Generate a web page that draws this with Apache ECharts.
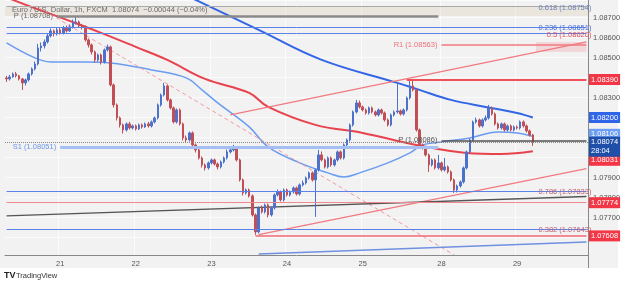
<!DOCTYPE html>
<html><head><meta charset="utf-8">
<script src="https://cdn.jsdelivr.net/npm/echarts@6/dist/echarts.min.js"></script>
<style>html,body{margin:0;padding:0;background:#fff}#c{width:625px;height:285px}</style>
</head><body><div id="c"></div>
<script>
// ---- data ----
const dayLabels = ['20','21','22','23','24','25','28','29'];
const dayHours  = [17,24,24,24,24,25,24,23];
const dateTicks = ['21','22','23','24','25','28','29'];
const titleText = 'Euro / U.S. Dollar, 1h, FXCM  1.08074  \u22120.00044 (\u22120.04%)';
const countdown = '28:04';
// [open, close, low, high]
const candles = [
[1.08398,1.08393,1.08378,1.08408],[1.08393,1.08403,1.08385,1.08413],[1.08403,1.08418,1.08398,1.08425],[1.08418,1.08408,1.08400,1.08428],
[1.08408,1.08393,1.08385,1.08413],[1.08393,1.08373,1.08338,1.08398],[1.08373,1.08388,1.08360,1.08395],[1.08388,1.08418,1.08380,1.08425],
[1.08418,1.08443,1.08410,1.08450],[1.08443,1.08468,1.08435,1.08480],[1.08468,1.08548,1.08460,1.08568],[1.08548,1.08558,1.08530,1.08575],
[1.08558,1.08578,1.08545,1.08590],[1.08578,1.08608,1.08570,1.08620],[1.08608,1.08633,1.08600,1.08645],[1.08633,1.08618,1.08605,1.08640],
[1.08618,1.08638,1.08610,1.08650],[1.08638,1.08623,1.08615,1.08648],[1.08623,1.08648,1.08615,1.08658],[1.08648,1.08633,1.08625,1.08660],
[1.08633,1.08653,1.08628,1.08665],[1.08653,1.08673,1.08645,1.08690],[1.08673,1.08678,1.08665,1.08706],[1.08678,1.08658,1.08650,1.08685],
[1.08658,1.08653,1.08640,1.08668],[1.08653,1.08588,1.08580,1.08660],[1.08588,1.08563,1.08550,1.08595],[1.08563,1.08528,1.08515,1.08570],
[1.08528,1.08488,1.08475,1.08535],[1.08488,1.08513,1.08480,1.08520],[1.08513,1.08478,1.08465,1.08520],[1.08478,1.08538,1.08470,1.08545],
[1.08538,1.08553,1.08530,1.08565],[1.08553,1.08363,1.08355,1.08560],[1.08363,1.08263,1.08250,1.08370],[1.08263,1.08198,1.08185,1.08270],
[1.08198,1.08163,1.08150,1.08205],[1.08163,1.08138,1.08120,1.08170],[1.08138,1.08168,1.08130,1.08175],[1.08168,1.08148,1.08140,1.08178],
[1.08148,1.08158,1.08140,1.08165],[1.08158,1.08143,1.08135,1.08165],[1.08143,1.08163,1.08138,1.08170],[1.08163,1.08153,1.08145,1.08170],
[1.08153,1.08168,1.08148,1.08175],[1.08168,1.08158,1.08150,1.08178],[1.08158,1.08178,1.08150,1.08185],[1.08178,1.08198,1.08170,1.08205],
[1.08198,1.08263,1.08190,1.08270],[1.08263,1.08313,1.08255,1.08320],[1.08313,1.08358,1.08305,1.08373],[1.08358,1.08288,1.08280,1.08365],
[1.08288,1.08248,1.08240,1.08295],[1.08248,1.08178,1.08170,1.08255],[1.08178,1.08238,1.08170,1.08245],[1.08238,1.08168,1.08160,1.08245],
[1.08168,1.08098,1.08085,1.08175],[1.08098,1.08088,1.08075,1.08110],[1.08088,1.08123,1.08080,1.08130],[1.08123,1.08063,1.08055,1.08130],
[1.08063,1.08038,1.08025,1.08070],[1.08038,1.07998,1.07990,1.08045],[1.07998,1.07963,1.07950,1.08005],[1.07963,1.07948,1.07935,1.07970],
[1.07948,1.07973,1.07940,1.07980],[1.07973,1.07988,1.07965,1.07995],[1.07988,1.07968,1.07960,1.07995],[1.07968,1.07953,1.07940,1.07975],
[1.07953,1.07978,1.07945,1.07985],[1.07978,1.07998,1.07970,1.08005],[1.07998,1.08028,1.07990,1.08040],[1.08028,1.08038,1.08020,1.08050],
[1.08038,1.08048,1.08030,1.08063],[1.08048,1.07988,1.07980,1.08055],[1.07988,1.07888,1.07880,1.07995],[1.07888,1.07823,1.07810,1.07895],
[1.07823,1.07838,1.07815,1.07845],[1.07838,1.07808,1.07800,1.07845],[1.07808,1.07713,1.07705,1.07815],[1.07713,1.07628,1.07613,1.07720],
[1.07628,1.07748,1.07620,1.07755],[1.07748,1.07728,1.07720,1.07760],[1.07728,1.07763,1.07720,1.07770],[1.07763,1.07713,1.07700,1.07770],
[1.07713,1.07748,1.07705,1.07755],[1.07748,1.07813,1.07740,1.07820],[1.07813,1.07828,1.07805,1.07840],[1.07828,1.07788,1.07780,1.07835],
[1.07788,1.07838,1.07780,1.07845],[1.07838,1.07813,1.07805,1.07845],[1.07813,1.07828,1.07805,1.07835],[1.07828,1.07848,1.07820,1.07855],
[1.07848,1.07818,1.07810,1.07855],[1.07818,1.07863,1.07810,1.07870],[1.07863,1.07873,1.07855,1.07885],[1.07873,1.07898,1.07865,1.07905],
[1.07898,1.07923,1.07890,1.07930],[1.07923,1.07888,1.07880,1.07930],[1.07888,1.07938,1.07703,1.07945],[1.07938,1.08013,1.07930,1.08038],
[1.08013,1.07988,1.07980,1.08030],[1.07988,1.07953,1.07945,1.07995],[1.07953,1.07998,1.07945,1.08005],[1.07998,1.07963,1.07955,1.08005],
[1.07963,1.07988,1.07955,1.07995],[1.07988,1.08028,1.07980,1.08035],[1.08028,1.07998,1.07990,1.08035],[1.07998,1.08063,1.07990,1.08070],
[1.08063,1.08088,1.08055,1.08095],[1.08088,1.08163,1.08080,1.08170],[1.08163,1.08228,1.08155,1.08235],[1.08228,1.08273,1.08220,1.08288],
[1.08273,1.08253,1.08245,1.08285],[1.08253,1.08238,1.08230,1.08260],[1.08238,1.08223,1.08215,1.08245],[1.08223,1.08248,1.08215,1.08255],
[1.08248,1.08228,1.08220,1.08255],[1.08228,1.08213,1.08205,1.08235],[1.08213,1.08238,1.08205,1.08245],[1.08238,1.08223,1.08215,1.08245],
[1.08223,1.08188,1.08180,1.08230],[1.08188,1.08163,1.08155,1.08195],[1.08163,1.08213,1.08155,1.08220],[1.08213,1.08228,1.08205,1.08235],
[1.08228,1.08233,1.08220,1.08373],[1.08233,1.08218,1.08210,1.08240],[1.08218,1.08238,1.08210,1.08245],[1.08238,1.08298,1.08230,1.08305],
[1.08298,1.08358,1.08290,1.08388],[1.08358,1.08338,1.08330,1.08388],[1.08338,1.08138,1.08130,1.08345],[1.08138,1.08063,1.08055,1.08145],
[1.08063,1.08048,1.08040,1.08070],[1.08048,1.08013,1.08005,1.08055],[1.08013,1.07963,1.07928,1.08020],[1.07963,1.07988,1.07955,1.07995],
[1.07988,1.07948,1.07940,1.07995],[1.07948,1.07973,1.07940,1.08013],[1.07973,1.07938,1.07930,1.07980],[1.07938,1.07953,1.07930,1.07998],
[1.07953,1.07928,1.07920,1.07960],[1.07928,1.07888,1.07880,1.07935],[1.07888,1.07838,1.07823,1.07895],[1.07838,1.07858,1.07825,1.07865],
[1.07858,1.07878,1.07850,1.07885],[1.07878,1.07948,1.07870,1.07955],[1.07948,1.08028,1.07940,1.08035],[1.08028,1.08088,1.08020,1.08095],
[1.08088,1.08178,1.08080,1.08185],[1.08178,1.08188,1.08170,1.08200],[1.08188,1.08158,1.08150,1.08195],[1.08158,1.08188,1.08150,1.08195],
[1.08188,1.08198,1.08180,1.08210],[1.08198,1.08248,1.08190,1.08263],[1.08248,1.08218,1.08210,1.08255],[1.08218,1.08168,1.08160,1.08225],
[1.08168,1.08148,1.08140,1.08175],[1.08148,1.08168,1.08140,1.08175],[1.08168,1.08138,1.08130,1.08175],[1.08138,1.08158,1.08130,1.08165],
[1.08158,1.08138,1.08130,1.08165],[1.08138,1.08153,1.08130,1.08160],[1.08153,1.08148,1.08140,1.08160],[1.08148,1.08178,1.08140,1.08185],
[1.08178,1.08158,1.08150,1.08185],[1.08158,1.08133,1.08125,1.08165],[1.08133,1.08113,1.08105,1.08140],[1.08113,1.08074,1.08058,1.08118]
];
// moving averages: [candle index, value]
const maSlow = [[55,1.08823],[60,1.08788],[80,1.08638],[100,1.08488],[124,1.08373],[131,1.08338],[141,1.08288],[152,1.08253],[162,1.08223],[167,1.08200]];
const maMid  = [[0,1.08808],[2,1.08788],[20,1.08683],[30,1.08623],[41,1.08553],[51,1.08488],[63,1.08393],[77,1.08323],[83,1.08253],[98,1.08163],[113,1.08123],[130,1.08063],[146,1.08023],[157,1.08018],[167,1.08031]];
const maFast = [[0,1.08573],[9,1.08498],[14,1.08478],[25,1.08478],[33,1.08473],[46,1.08438],[57,1.08398],[62,1.08338],[67,1.08273],[77,1.08153],[83,1.08053],[93,1.07973],[102,1.07923],[107,1.07903],[112,1.07923],[121,1.07973],[128,1.08023],[132,1.08063],[138,1.08078],[147,1.08098],[156,1.08128],[162,1.08123],[167,1.08106]];
// trend lines: [[index, value],[index, value]]
const trendUpper  = [[71,1.08213],[184,1.08578]];
const trendLower  = [[80,1.07614],[184,1.07944]];
const trendDashed = [[10,1.08753],[142,1.07513]];
const trendBlack  = [[0,1.07708],[184,1.07805]];
const trendBlue   = [[80,1.07518],[184,1.07578]];
// pivots: name, value, from index, to index
const pivotNames  = ['P','S1','P','R1'];
const pivotValues = [1.08708,1.08051,1.08086,1.08563];
const pivotFrom   = [16,17,138,138];
const pivotTo     = [137,137,184,184];
// fib levels
const fibRatios = ['0.618','0.236','0.5','0.786','0.382'];
const fibValues = [1.08754,1.08651,1.08620,1.07833,1.07643];
// horizontal levels: value, from index
const levelValues = [1.08390,1.07774,1.07608];
const levelFrom   = [127,0,79];
// price tags on the axis
const tagValues = [1.08390,1.08200,1.08106,1.08031,1.07774,1.07608];
const bandTop = [1.08754,1.08708];
const boxR1 = [[168,1.08578],[184,1.08528]];

// ---- styles ----
const FONT = 'Liberation Sans';
const UP = '#4c72cc', DOWN = '#c24f55';
const pivotColors = ['#8a8a8a','#a6bff2','#555555','#f07a80'];
const pivotText   = ['#666666','#6d95e6','#555555','#f0707a'];
const pivotWidth  = [2.5,3,1.5,1.5];
const fibLine = ['#aaaaaa','#5a82e8','#5a82e8','#5a82e8','#5a82e8'];
const fibText = ['#6a7fb8','#4a70d8','#e05060','#c06070','#c06070'];
const levelColors = ['#f0505a','#f08890','#f06a75'];
const levelWidths = [2,1,1.5];
const tagColors = ['#f23645','#2f66e8','#6d9ef5','#f23645','#f23645','#f23645'];
const tagOffsets = [0,0,-2,9,0,0];

const categories = [];
dayLabels.forEach((d, k) => { for (let h = 0; h < dayHours[k]; h++) categories.push(d + '|' + h); });
const isDayStart = (i, v) => { const p = v.split('|'); return p[1] === '0' && dateTicks.includes(p[0]); };

const last = categories.length - 1;
const lastClose = candles[candles.length - 1][1];
const mlData = [];
pivotValues.forEach((v, k) => {
  mlData.push([
    {coord:[pivotFrom[k], v], lineStyle:{color:pivotColors[k], width:pivotWidth[k], type:'solid'},
     label:{show:true, position:'start', distance:4, formatter: pivotNames[k] + ' (' + v.toFixed(5) + ')', color:pivotText[k], fontSize:7.5, fontFamily:FONT}},
    {coord:[pivotTo[k], v]}
  ]);
});
fibValues.forEach((v, k) => {
  mlData.push([
    {coord:[0, v], lineStyle:{color:fibLine[k], width:1, type:'solid'},
     label:{show:true, position:'insideEndTop', distance:-5, formatter: fibRatios[k] + ' (' + v.toFixed(5) + ')', color:fibText[k], fontSize:7.5, fontFamily:FONT}},
    {coord:[last, v]}
  ]);
});
levelValues.forEach((v, k) => {
  mlData.push([
    {coord:[levelFrom[k], v], lineStyle:{color:levelColors[k], width:levelWidths[k], type:'solid'}, label:{show:false}},
    {coord:[last, v]}
  ]);
});
const tagLines = tagValues.map((v, k) => ({yAxis:v, lineStyle:{color:'rgba(0,0,0,0)', width:0}, label:{show:true, position:'end', distance:1,
    formatter: v.toFixed(5), backgroundColor: tagColors[k], color:'#fff', fontSize:7.5, fontFamily:FONT,
    padding:[2,2,1,2], offset:[0, tagOffsets[k]]}}));
tagLines.push({yAxis:lastClose, lineStyle:{color:'#8a8a8a', type:'dotted', width:1}, label:{show:true, position:'end', distance:1,
  formatter: lastClose.toFixed(5) + '\n' + countdown, backgroundColor:'#1f4fa8', color:'#fff', fontSize:7.5, lineHeight:9, fontFamily:FONT,
  padding:[1,2,1,2], offset:[0,4]}});

function lineSeries(data, color, width, opts) {
  return Object.assign({type:'line', data, showSymbol:false, symbol:'none', clip:true, silent:true,
    lineStyle:{color, width}, z:2}, opts || {});
}

const chart = echarts.init(document.getElementById('c'), null, {renderer:'canvas'});
chart.setOption({
  animation:false,
  backgroundColor:'#ffffff',
  textStyle:{fontFamily:FONT},
  title:{text:titleText, left:7, top:1, textStyle:{fontSize:7.5, fontWeight:'normal', color:'#6a6a6a', fontFamily:FONT}},
  graphic:[
    {type:'rect', shape:{x:0, y:0, width:618, height:268}, style:{fill:'#f2f2f2'}, z:-100, silent:true},
    {type:'line', shape:{x1:588.5, y1:255, x2:588.5, y2:268}, style:{stroke:'#888', lineWidth:1}, z:10, silent:true},
    {type:'text', left:4, top:271, style:{text:'TV', font:'bold 9px ' + FONT, fill:'#222'}},
    {type:'text', left:16, top:272, style:{text:'TradingView', font:'7.5px ' + FONT, fill:'#333'}}
  ],
  grid:{left:5, right:37, top:0, bottom:30},
  xAxis:{type:'category', data:categories, boundaryGap:true,
    axisLine:{show:true, lineStyle:{color:'#888', width:1}}, axisTick:{show:false},
    axisLabel:{interval:isDayStart, formatter:v => v.split('|')[0], fontSize:7.5, color:'#555', margin:5, fontFamily:FONT},
    splitLine:{show:true, interval:isDayStart, lineStyle:{color:'#fbfbfb', width:1}}},
  yAxis:{type:'value', position:'right', min:1.075125, max:1.087875, minInterval:0.001, maxInterval:0.001, scale:true,
    axisLine:{show:true, lineStyle:{color:'#888', width:1}}, axisTick:{show:false},
    axisLabel:{formatter:v => v.toFixed(5), fontSize:7.5, color:'#555', margin:5, showMinLabel:false, showMaxLabel:false, fontFamily:FONT},
    splitLine:{show:true, lineStyle:{color:'#fbfbfb', width:1}}},
  series:[
    lineSeries(maFast, '#6a9cf2', 1.5, {smooth:0.4}),
    lineSeries(maMid, '#e8424d', 2, {smooth:0.4}),
    lineSeries(maSlow, '#3366e6', 2, {smooth:0.4}),
    lineSeries(trendUpper, '#f07a80', 1.2),
    lineSeries(trendLower, '#f07a80', 1.2),
    lineSeries(trendDashed, '#f29aa0', 1, {lineStyle:{color:'#f29aa0', width:1, type:[4,3]}}),
    lineSeries(trendBlack, '#555555', 1.3),
    lineSeries(trendBlue, '#7090e0', 1.5),
    {type:'candlestick', data:candles, barWidth:2, z:3, silent:true,
     itemStyle:{color:UP, color0:DOWN, borderColor:UP, borderColor0:DOWN, borderWidth:1},
     markLine:{silent:true, symbol:['none','none'], precision:5, data:mlData, animation:false},
     markArea:{silent:true, data:[
       [{yAxis:bandTop[0], itemStyle:{color:'rgba(215,200,170,0.28)'}}, {yAxis:bandTop[1]}],
       [{coord:boxR1[0], itemStyle:{color:'rgba(242,120,130,0.22)'}}, {coord:boxR1[1]}]
     ]}},
    {type:'line', data:[], silent:true, z:6,
     markLine:{silent:true, symbol:['none','none'], precision:5, data:tagLines, animation:false}}
  ]
});
</script></body></html>
